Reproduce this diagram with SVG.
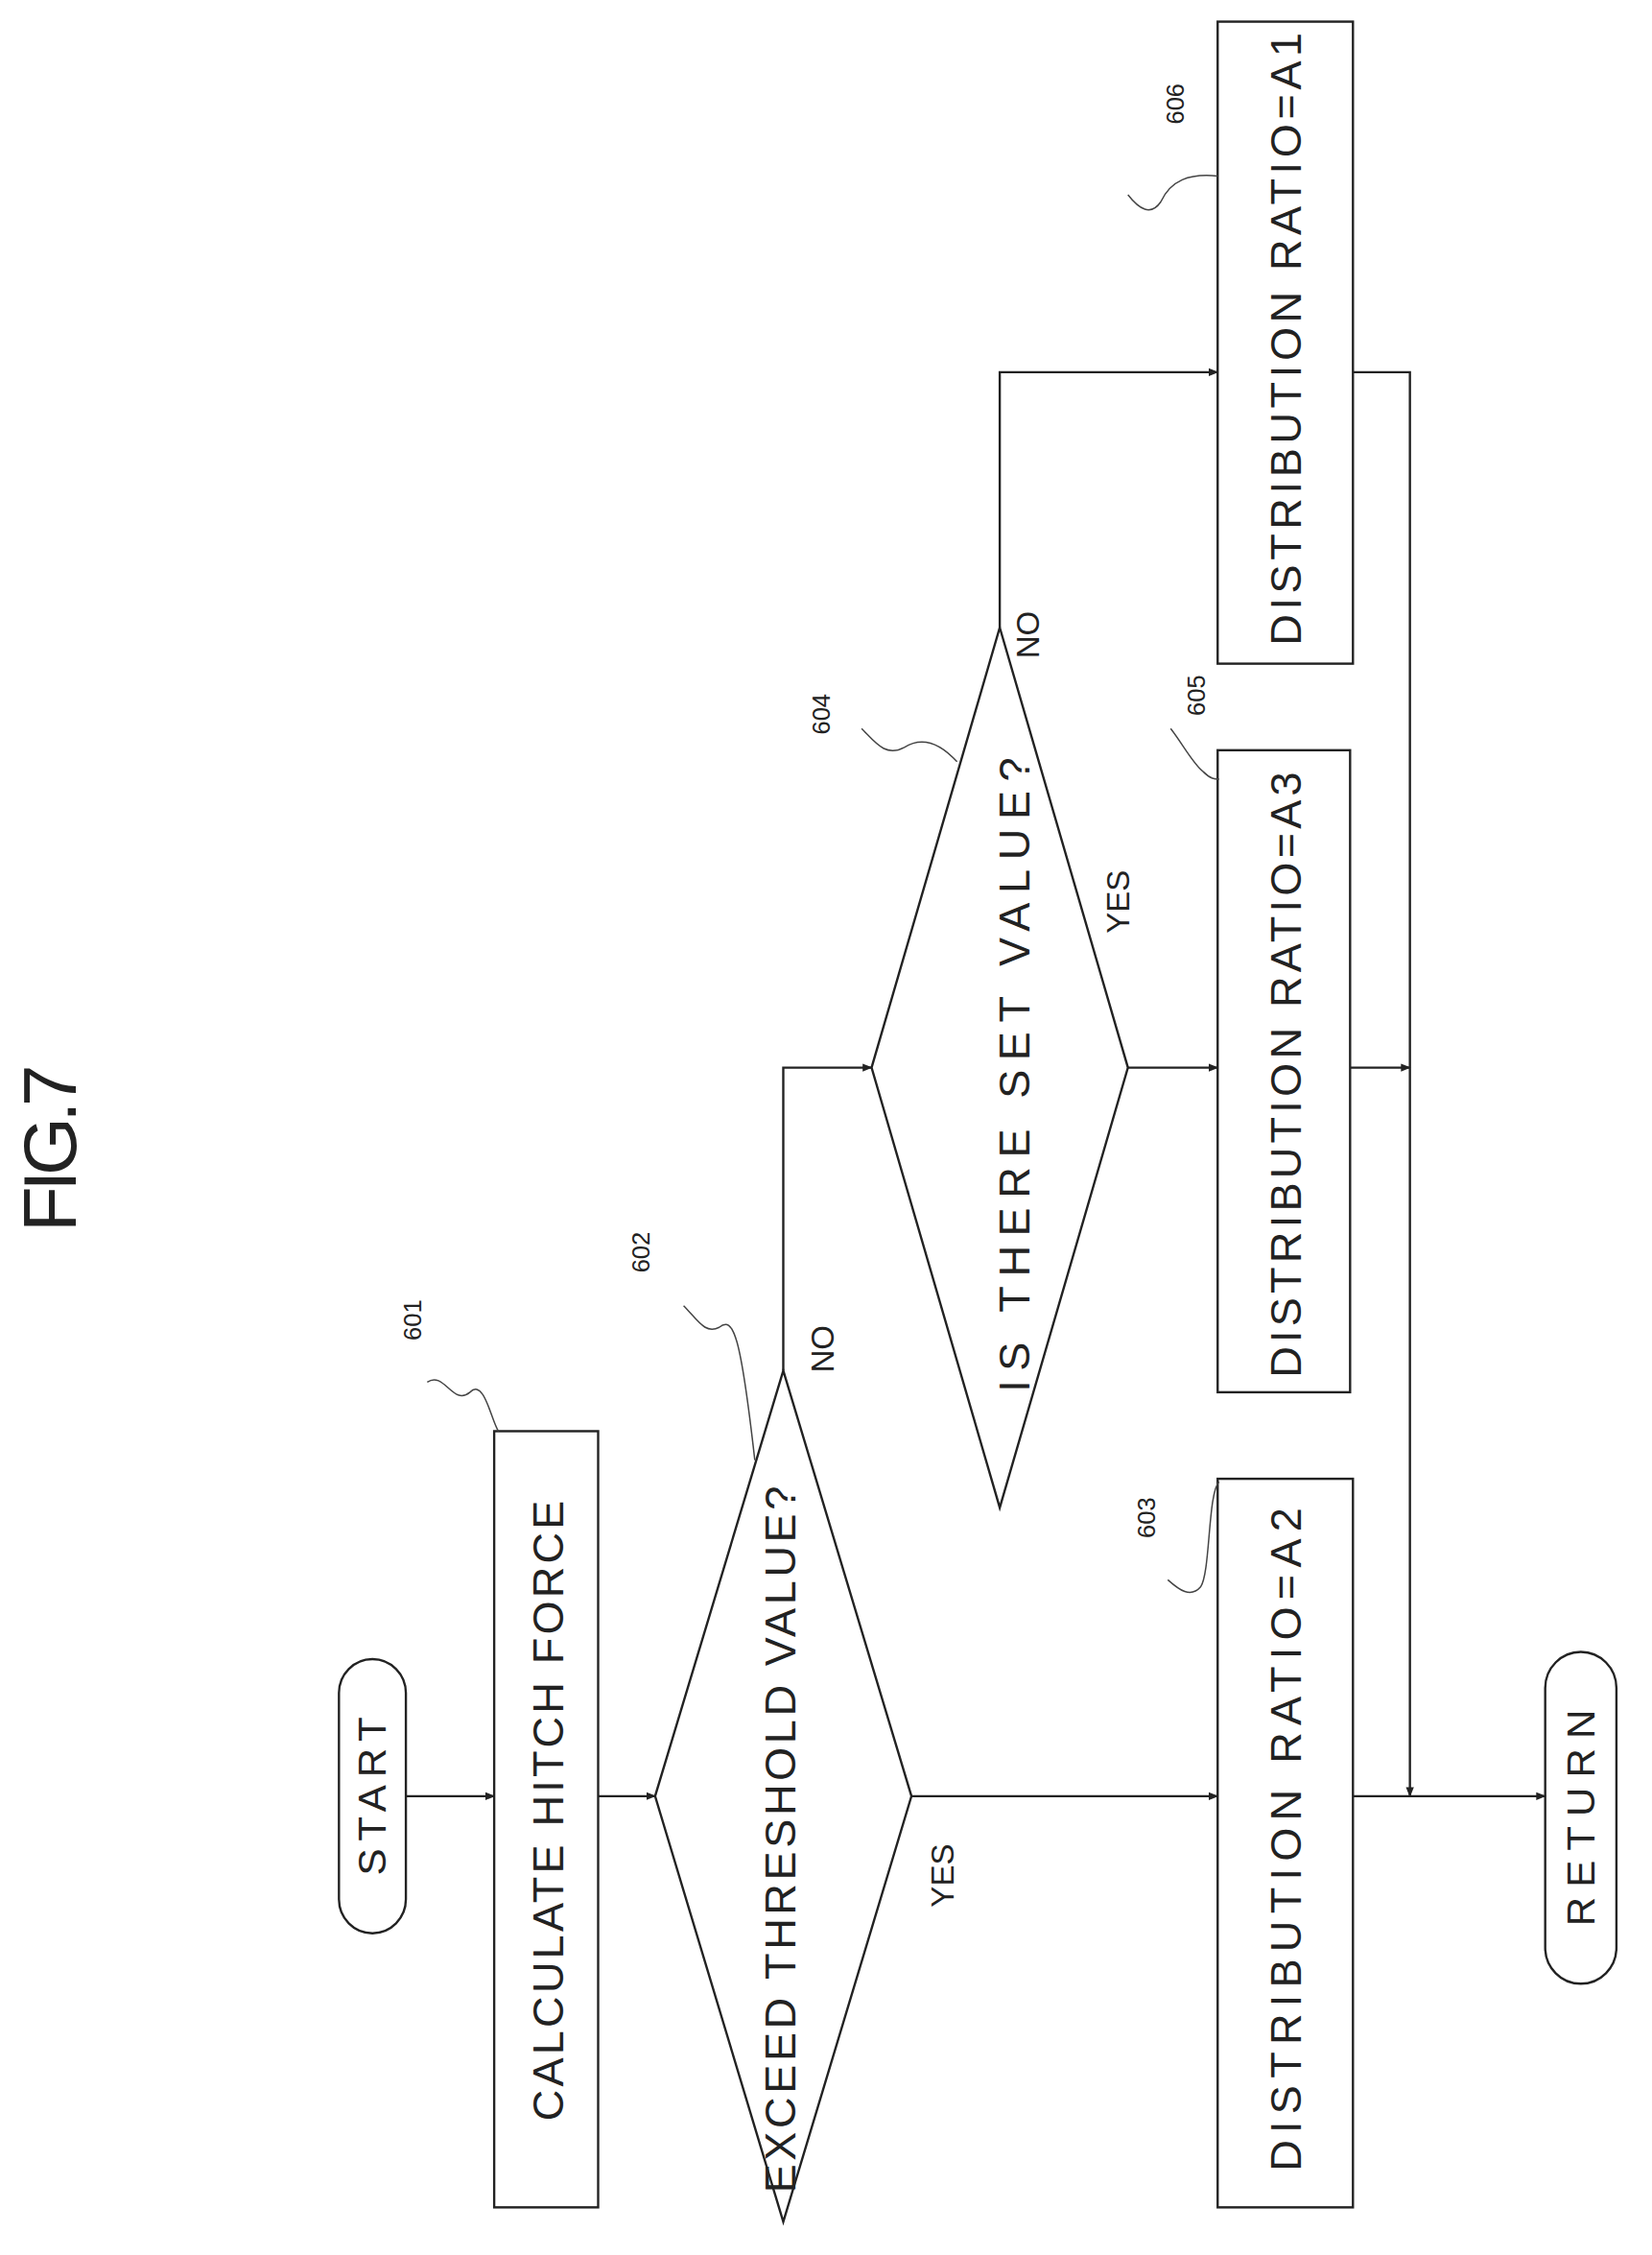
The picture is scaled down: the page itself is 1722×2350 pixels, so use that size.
<svg xmlns="http://www.w3.org/2000/svg" width="1722" height="2350" viewBox="0 0 1722 2350">
<defs>
<style>
.s{fill:none;stroke:#222;stroke-width:1.6}
.l{fill:none;stroke:#444;stroke-width:1}
.t{font-family:"Liberation Sans",Arial,sans-serif;fill:#222;text-anchor:middle;dominant-baseline:central}
</style>
<marker id="a" viewBox="0 0 10 10" refX="9" refY="5" markerWidth="7" markerHeight="7" orient="auto" markerUnits="userSpaceOnUse"><path d="M0,1 L10,5 L0,9 Z" fill="#222"/></marker>
</defs>
<rect width="1722" height="2350" fill="#fff"/>
<g transform="scale(1.4845,1.5035)">
<text class="t" font-size="52" textLength="116" transform="translate(35,796) rotate(-90)">FIG.7</text>
<g id="start"><rect class="s" x="238" y="1150" width="47" height="190" rx="23.5"/><text class="t" font-size="28" textLength="110" transform="translate(261,1245) rotate(-90)">START</text></g>
<g id="n601"><rect class="s" x="347" y="992" width="73" height="538"/><text class="t" font-size="30" textLength="430" transform="translate(385,1255) rotate(-90)">CALCULATE HITCH FORCE</text>
<text class="t" font-size="17" transform="translate(290,915) rotate(-90)">601</text><path class="l" d="M300,958 C312,950 318,975 330,965 C340,955 345,985 350,992"/></g>
<g id="n602"><path class="s" d="M550,950 L640,1245 L550,1540 L460,1245 Z"/><text class="t" font-size="30" textLength="490" transform="translate(548,1275) rotate(-90)">EXCEED THRESHOLD VALUE?</text>
<text class="t" font-size="17" transform="translate(450,868) rotate(-90)">602</text><path class="l" d="M480,905 C490,915 495,925 505,920 C515,912 520,925 530,1012"/>
<text class="t" font-size="22" transform="translate(662,1300) rotate(-90)">YES</text><text class="t" font-size="22" transform="translate(578,935) rotate(-90)">NO</text></g>
<g id="n604"><path class="s" d="M702,435 L792,740 L702,1045 L612,740 Z"/><text class="t" font-size="30" textLength="440" transform="translate(712,745) rotate(-90)">IS THERE SET VALUE?</text>
<text class="t" font-size="17" transform="translate(577,495) rotate(-90)">604</text><path class="l" d="M605,505 C615,515 622,525 635,518 C648,510 660,515 672,528"/>
<text class="t" font-size="22" transform="translate(785,625) rotate(-90)">YES</text><text class="t" font-size="22" transform="translate(722,440) rotate(-90)">NO</text></g>
<g id="n605"><rect class="s" x="855" y="520" width="93" height="445"/><text class="t" font-size="30" textLength="420" transform="translate(903,745) rotate(-90)">DISTRIBUTION RATIO=A3</text>
<text class="t" font-size="17" transform="translate(840,482) rotate(-90)">605</text><path class="l" d="M822,505 C830,515 838,530 845,535 C850,540 853,540 856,540"/></g>
<g id="n606"><rect class="s" x="855" y="15" width="95" height="445"/><text class="t" font-size="30" textLength="425" transform="translate(903,235) rotate(-90)">DISTRIBUTION RATIO=A1</text>
<text class="t" font-size="17" transform="translate(825,72) rotate(-90)">606</text><path class="l" d="M792,135 C800,145 808,150 815,140 C822,125 835,120 855,122"/></g>
<g id="n603"><rect class="s" x="855" y="1025" width="95" height="505"/><text class="t" font-size="30" textLength="460" transform="translate(903,1275) rotate(-90)">DISTRIBUTION RATIO=A2</text>
<text class="t" font-size="17" transform="translate(805,1052) rotate(-90)">603</text><path class="l" d="M820,1095 C828,1102 836,1108 843,1100 C850,1090 848,1035 856,1027"/></g>
<g id="ret"><rect class="s" x="1085" y="1145" width="50" height="230" rx="25"/><text class="t" font-size="28" textLength="150" transform="translate(1110,1260) rotate(-90)">RETURN</text></g>
<g id="connectors">
<path class="s" d="M285,1245 H347" marker-end="url(#a)"/>
<path class="s" d="M420,1245 H460" marker-end="url(#a)"/>
<path class="s" d="M640,1245 H855" marker-end="url(#a)"/>
<path class="s" d="M950,1245 H1085" marker-end="url(#a)"/>
<path class="s" d="M550,950 V740 H612" marker-end="url(#a)"/>
<path class="s" d="M792,740 H855" marker-end="url(#a)"/>
<path class="s" d="M702,435 V258 H855" marker-end="url(#a)"/>
<path class="s" d="M948,740 H990" marker-end="url(#a)"/>
<path class="s" d="M950,258 H990 V1245" marker-end="url(#a)"/>
</g>
</g>
</svg>
